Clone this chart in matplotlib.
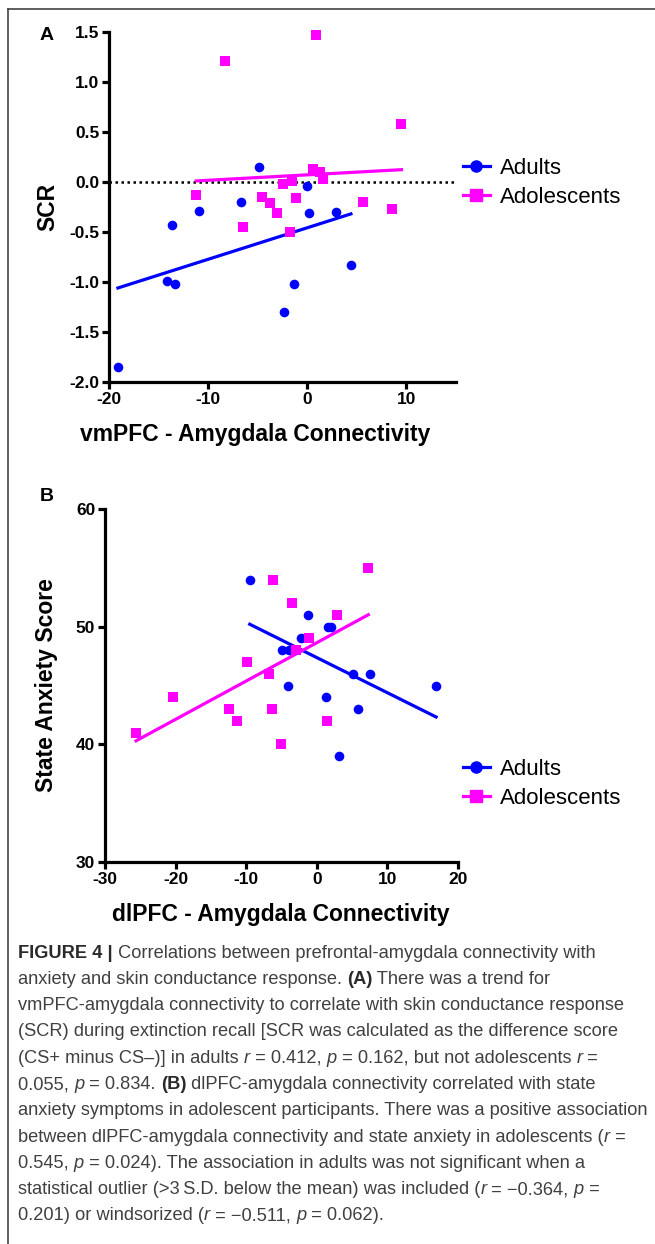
import numpy as np
import matplotlib
matplotlib.use('Agg')
import matplotlib.pyplot as plt
from matplotlib.lines import Line2D
from matplotlib.ticker import FormatStrFormatter

plt.rcParams['font.family'] = ['Liberation Sans', 'DejaVu Sans']
plt.rcParams['axes.unicode_minus'] = False

# Panel A: vmPFC-amygdala connectivity vs SCR
a_adult_x = [-19.1, -14.1, -13.3, -13.6, -10.9, -6.7, -4.9, -2.3, -1.3, 0.0, 0.2, 2.9, 4.4]
a_adult_y = [-1.85, -0.99, -1.02, -0.43, -0.29, -0.20, 0.15, -1.30, -1.02, -0.04, -0.31, -0.30, -0.83]
a_adol_x = [-11.2, -8.3, -6.5, -4.6, -3.8, -3.1, -2.4, -1.7, -1.5, -1.1, 0.6, 0.9, 1.3, 1.6, 5.6, 8.5, 9.5]
a_adol_y = [-0.13, 1.21, -0.45, -0.15, -0.21, -0.31, -0.02, -0.50, 0.01, -0.16, 0.13, 1.47, 0.10, 0.03, -0.20, -0.27, 0.58]

# Panel B: dlPFC-amygdala connectivity vs state anxiety
b_adult_x = [-9.5, -1.2, 1.6, 2.0, -2.3, -4.9, -4.0, 5.1, 7.5, -4.1, 16.9, 1.3, 5.8, 3.2]
b_adult_y = [54, 51, 50, 50, 49, 48, 48, 46, 46, 45, 45, 44, 43, 39]
b_adol_x = [-9.9, -6.2, 7.3, -3.5, 2.9, -1.1, -2.9, -6.8, -20.4, -25.6, -12.4, -11.3, -6.4, 1.4, -5.1]
b_adol_y = [47, 54, 55, 52, 51, 49, 48, 46, 44, 41, 43, 42, 43, 42, 40]

BLUE = '#0000ff'
MAG = '#ff00ff'

W, H = 655, 1244
fig = plt.figure(figsize=(W / 100, H / 100), dpi=100)


def fig_rect(x0, x1, ytop, ybot):
    return [x0 / W, 1 - ybot / H, (x1 - x0) / W, (ybot - ytop) / H]


def style_axes(ax):
    for s in ['top', 'right']:
        ax.spines[s].set_visible(False)
    for s in ['left', 'bottom']:
        ax.spines[s].set_linewidth(2.3)
    ax.tick_params(direction='out', length=5, width=2.3, labelsize=12.5, pad=2)
    for lab in ax.get_xticklabels() + ax.get_yticklabels():
        lab.set_fontweight('bold')


def draw_group(ax, x, y, color, marker, label):
    x = np.array(x)
    y = np.array(y)
    ax.scatter(x, y, s=48, color=color, marker=marker, linewidths=0, zorder=3, clip_on=False)
    k, b = np.polyfit(x, y, 1)
    xs = np.array([x.min(), x.max()])
    ax.plot(xs, k * xs + b, color=color, lw=2.3, zorder=2)
    return Line2D([], [], color=color, lw=2.3, marker=marker, markersize=8, label=label)


def add_legend(ax, handles, ycen):
    ax.legend(handles=handles, loc='center left', bbox_to_anchor=(463 / W, 1 - ycen / H),
              bbox_transform=fig.transFigure, frameon=False, fontsize=16, handlelength=1.2,
              handletextpad=0.45, labelspacing=0.35, borderpad=0, borderaxespad=0)


def set_labels(ax, xlabel, ylabel, xl_pos, yl_pos):
    ax.set_xlabel(xlabel, fontsize=16.5, fontweight='bold')
    ax.set_ylabel(ylabel, fontsize=16.5, fontweight='bold')
    ax.xaxis.set_label_coords(*xl_pos)
    ax.yaxis.set_label_coords(*yl_pos)
    ax.xaxis.label.set_va('center')
    ax.yaxis.label.set_va('center')


# ---- panel A ----
axA = fig.add_axes(fig_rect(109, 456, 32, 382))
axA.axhline(0, color='black', lw=1.8, ls=(0, (1, 1.4)), zorder=1)
hA1 = draw_group(axA, a_adult_x, a_adult_y, BLUE, 'o', 'Adults')
hA2 = draw_group(axA, a_adol_x, a_adol_y, MAG, 's', 'Adolescents')
axA.set_xlim(-20, 15)
axA.set_ylim(-2.0, 1.5)
axA.set_xticks([-20, -10, 0, 10])
axA.set_yticks(np.arange(-2.0, 1.51, 0.5))
axA.yaxis.set_major_formatter(FormatStrFormatter('%.1f'))
style_axes(axA)
set_labels(axA, 'vmPFC - Amygdala Connectivity', 'SCR',
           ((255 - 109) / 347, (382 - 435) / 350), ((48 - 109) / 347, 0.5))
add_legend(axA, [hA1, hA2], 183)
fig.text(40 / W, 1 - 35 / H, 'A', fontsize=14, fontweight='bold', va='center', ha='left')

# ---- panel B ----
axB = fig.add_axes(fig_rect(105, 458, 509, 862))
hB1 = draw_group(axB, b_adult_x, b_adult_y, BLUE, 'o', 'Adults')
hB2 = draw_group(axB, b_adol_x, b_adol_y, MAG, 's', 'Adolescents')
axB.set_xlim(-30, 20)
axB.set_ylim(30, 60)
axB.set_xticks([-30, -20, -10, 0, 10, 20])
axB.set_yticks([30, 40, 50, 60])
style_axes(axB)
set_labels(axB, 'dlPFC - Amygdala Connectivity', 'State Anxiety Score',
           ((281 - 105) / 353, (862 - 914) / 353), ((47 - 105) / 353, 0.5))
add_legend(axB, [hB1, hB2], 784)
fig.text(40 / W, 1 - 497 / H, 'B', fontsize=14, fontweight='bold', va='center', ha='left')

# ---- frame lines ----
fig.add_artist(Line2D([7.5 / W, 1], [1 - 8.5 / H] * 2, transform=fig.transFigure, color='#444444', lw=1.2))
fig.add_artist(Line2D([7.5 / W] * 2, [1 - 8.5 / H, 0], transform=fig.transFigure, color='#444444', lw=1.2))

# ---- caption ----
caption = [
    [('FIGURE 4 |', 'b'), (' Correlations between prefrontal-amygdala connectivity with', 'n')],
    [('anxiety and skin conductance response. ', 'n'), ('(A)', 'b'), (' There was a trend for', 'n')],
    [('vmPFC-amygdala connectivity to correlate with skin conductance response', 'n')],
    [('(SCR) during extinction recall [SCR was calculated as the difference score', 'n')],
    [('(CS+ minus CS\u2013)] in adults ', 'n'), ('r', 'i'), (' = 0.412, ', 'n'), ('p', 'i'),
     (' = 0.162, but not adolescents ', 'n'), ('r', 'i'), (' =', 'n')],
    [('0.055, ', 'n'), ('p', 'i'), (' = 0.834. ', 'n'), ('(B)', 'b'),
     (' dlPFC-amygdala connectivity correlated with state', 'n')],
    [('anxiety symptoms in adolescent participants. There was a positive association', 'n')],
    [('between dlPFC-amygdala connectivity and state anxiety in adolescents (', 'n'), ('r', 'i'), (' =', 'n')],
    [('0.545, ', 'n'), ('p', 'i'), (' = 0.024). The association in adults was not significant when a', 'n')],
    [('statistical outlier (>3\u2009S.D. below the mean) was included (', 'n'), ('r', 'i'),
     (' = \u22120.364, ', 'n'), ('p', 'i'), (' =', 'n')],
    [('0.201) or windsorized (', 'n'), ('r', 'i'), (' = \u22120.511, ', 'n'), ('p', 'i'), (' = 0.062).', 'n')],
]

renderer = fig.canvas.get_renderer()


def seg_kw(st, size):
    kw = dict(fontsize=size, color='#404040')
    if st == 'b':
        kw.update(fontweight='bold', color='#2a2a2a')
    if st == 'i':
        kw.update(fontstyle='italic')
    return kw


def text_w(s, kw):
    t = fig.text(0, 0, 'x' + s + 'x', **kw)
    w = t.get_window_extent(renderer).width
    t.remove()
    t = fig.text(0, 0, 'xx', **kw)
    w0 = t.get_window_extent(renderer).width
    t.remove()
    return w - w0


# scale font so that the longest line fits the page like the reference
base = 10.0
longest = sum(text_w(s, seg_kw(st, base)) for s, st in caption[6])
cap_size = base * 632 / longest

y0, dy = 953, 26.3
for i, line in enumerate(caption):
    x = 18
    for s, st in line:
        kw = seg_kw(st, cap_size)
        fig.text(x / W, 1 - (y0 + i * dy) / H, s, va='center', ha='left', **kw)
        x += text_w(s, kw)

fig.savefig('out.png', dpi=100)
